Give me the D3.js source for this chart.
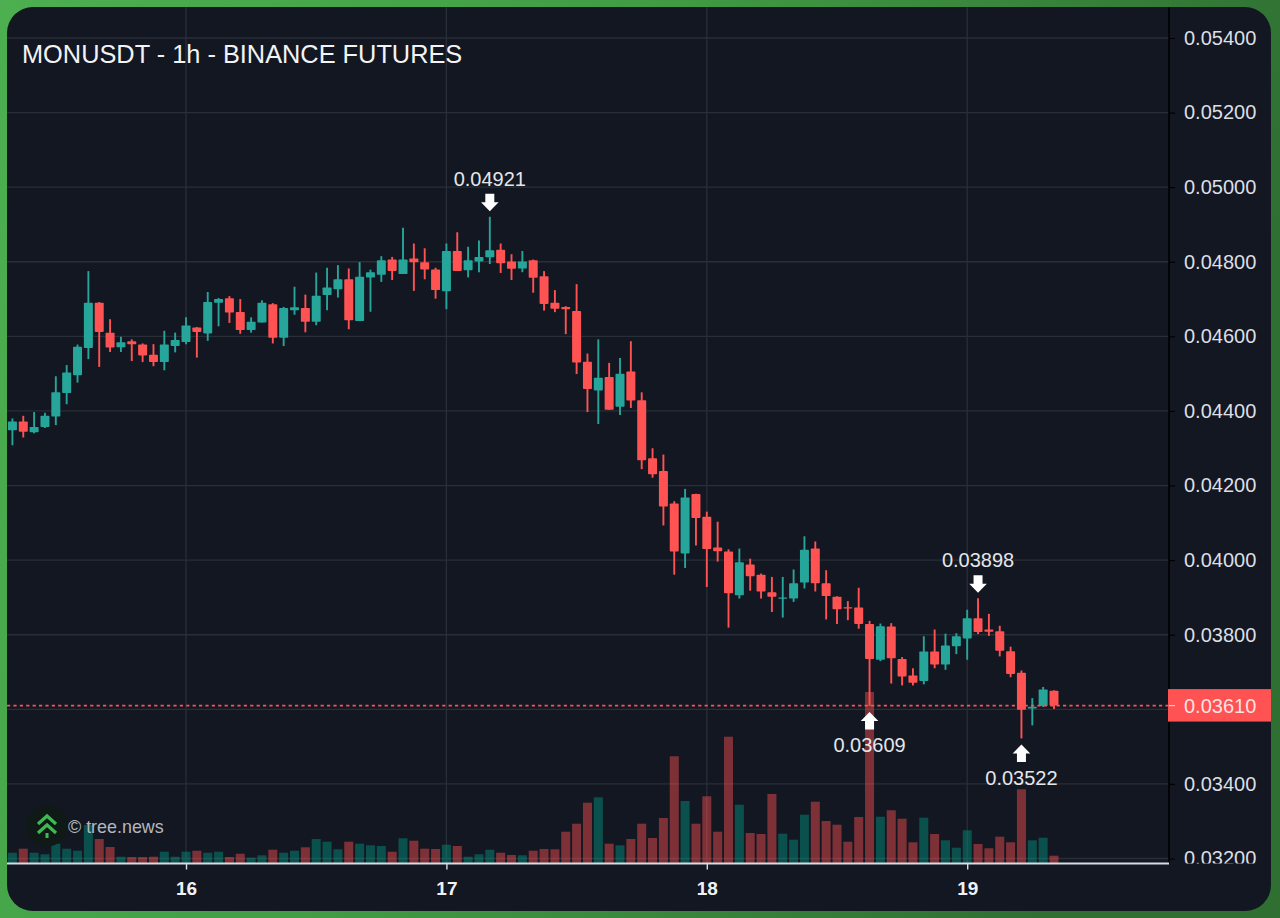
<!DOCTYPE html>
<html>
<head>
<meta charset="utf-8">
<script src="https://cdn.jsdelivr.net/npm/d3@7"></script>
<style>
html,body{margin:0;padding:0;background:#3f9642;}
svg{display:block;font-family:"Liberation Sans",Arial,sans-serif;}
</style>
</head>
<body>
<svg id="chart" width="1280" height="918"></svg>
<script>
const titleText = "MONUSDT - 1h - BINANCE FUTURES";
const watermarkText = "© tree.news";
const priceTicks = [0.054,0.052,0.050,0.048,0.046,0.044,0.042,0.040,0.038,0.034,0.032];
const gridTicks = [0.054,0.052,0.050,0.048,0.046,0.044,0.042,0.040,0.038,0.036,0.034,0.032];
const dayTicks = [16,17,18,19];
const lastPrice = 0.03610;

const opens = [0.04348,0.04372,0.04343,0.04357,0.04385,0.04448,0.04496,0.04569,0.04690,0.04610,0.04571,0.04587,0.04578,0.04551,0.04531,0.04574,0.04585,0.04624,0.04608,0.04690,0.04702,0.04665,0.04617,0.04637,0.04686,0.04596,0.04670,0.04676,0.04639,0.04711,0.04726,0.04753,0.04641,0.04758,0.04765,0.04806,0.04767,0.04809,0.04799,0.04779,0.04721,0.04829,0.04777,0.04801,0.04812,0.04832,0.04801,0.04782,0.04804,0.04761,0.04690,0.04679,0.04668,0.04532,0.04455,0.04491,0.04411,0.04506,0.04429,0.04273,0.04239,0.04152,0.04018,0.04177,0.04116,0.04034,0.04023,0.03906,0.03988,0.03961,0.03914,0.03897,0.03897,0.03940,0.04031,0.03938,0.03902,0.03874,0.03873,0.03829,0.03733,0.03822,0.03735,0.03691,0.03676,0.03755,0.03720,0.03769,0.03790,0.03844,0.03814,0.03809,0.03756,0.03698,0.03602,0.03609,0.03650];
const highs = [0.04380,0.04387,0.04397,0.04395,0.04493,0.04523,0.04578,0.04775,0.04692,0.04646,0.04599,0.04592,0.04581,0.04579,0.04615,0.04610,0.04651,0.04625,0.04719,0.04703,0.04708,0.04700,0.04651,0.04697,0.04689,0.04679,0.04733,0.04712,0.04771,0.04784,0.04791,0.04782,0.04799,0.04779,0.04815,0.04813,0.04891,0.04849,0.04836,0.04784,0.04849,0.04879,0.04840,0.04857,0.04921,0.04849,0.04820,0.04829,0.04806,0.04775,0.04724,0.04681,0.04740,0.04554,0.04592,0.04529,0.04542,0.04587,0.04450,0.04300,0.04283,0.04158,0.04191,0.04178,0.04130,0.04103,0.04029,0.04031,0.04004,0.03964,0.03955,0.03955,0.03975,0.04064,0.04050,0.03973,0.03903,0.03890,0.03926,0.03837,0.03830,0.03831,0.03740,0.03710,0.03796,0.03814,0.03803,0.03804,0.03867,0.03898,0.03856,0.03824,0.03768,0.03704,0.03630,0.03660,0.03651];
const lows = [0.04308,0.04329,0.04340,0.04354,0.04362,0.04418,0.04476,0.04539,0.04518,0.04558,0.04558,0.04534,0.04531,0.04520,0.04509,0.04557,0.04579,0.04543,0.04588,0.04627,0.04636,0.04607,0.04610,0.04637,0.04581,0.04574,0.04658,0.04611,0.04630,0.04670,0.04704,0.04619,0.04641,0.04666,0.04746,0.04751,0.04767,0.04722,0.04753,0.04701,0.04673,0.04775,0.04758,0.04772,0.04794,0.04770,0.04751,0.04772,0.04717,0.04669,0.04665,0.04606,0.04499,0.04397,0.04365,0.04403,0.04389,0.04408,0.04244,0.04221,0.04093,0.03961,0.03979,0.04039,0.03928,0.03996,0.03819,0.03897,0.03918,0.03897,0.03861,0.03846,0.03888,0.03924,0.03916,0.03841,0.03829,0.03839,0.03816,0.03609,0.03729,0.03669,0.03664,0.03664,0.03667,0.03710,0.03706,0.03748,0.03733,0.03802,0.03797,0.03742,0.03686,0.03522,0.03557,0.03606,0.03601];
const closes = [0.04372,0.04344,0.04357,0.04387,0.04450,0.04503,0.04572,0.04690,0.04612,0.04570,0.04584,0.04579,0.04549,0.04531,0.04578,0.04590,0.04629,0.04612,0.04692,0.04700,0.04664,0.04617,0.04639,0.04690,0.04596,0.04676,0.04678,0.04639,0.04709,0.04731,0.04753,0.04643,0.04760,0.04772,0.04804,0.04775,0.04806,0.04799,0.04779,0.04724,0.04829,0.04775,0.04804,0.04813,0.04831,0.04796,0.04781,0.04801,0.04757,0.04687,0.04674,0.04673,0.04530,0.04459,0.04489,0.04403,0.04500,0.04428,0.04268,0.04230,0.04144,0.04023,0.04168,0.04113,0.04030,0.04024,0.03911,0.03994,0.03957,0.03916,0.03902,0.03900,0.03938,0.04028,0.03938,0.03904,0.03868,0.03870,0.03829,0.03735,0.03823,0.03737,0.03688,0.03671,0.03755,0.03720,0.03771,0.03796,0.03844,0.03807,0.03808,0.03757,0.03695,0.03599,0.03607,0.03653,0.03610];
const volumes = [10.3,14.3,10.3,8.7,19.3,14.3,12.3,38,24,16,6.3,6,6,6.3,11.3,6.3,11.3,12.3,10.3,11.3,6,9.3,5.3,7.7,13.3,10.3,12.3,15.7,24,21.3,13.7,21.3,19.3,17.7,17,11.3,24.7,22.3,14.3,14,18.3,17,6.3,8.7,13.3,10.3,8,7.7,12.3,14,13.7,31.3,39.3,60.3,65.7,19.3,17.7,24,39.3,25,45,106.7,62,39.3,66.7,31.3,126.3,58.3,30,29,69,29.3,23.3,48.3,61.3,42,38.3,21.3,46,171,46.3,52.7,44.3,20.7,45.3,29,22.7,15.3,32.7,19,14.7,26.3,20.7,73.7,22.7,25.3,7.3];

const markerPrices = [0.04921,0.03609,0.03898,0.03522];
const markerIndex = [44,79,89,93];
const markerSide = ["high","low","high","low"];

const GREEN = "#26a69a", RED = "#ff5252";
const firstHour = Date.UTC(2025,9,15,8);
const dayOf = d => new Date(Date.UTC(2025,9,d));
const candles = opens.map((o,i)=>({
  t:d3.utcHour.offset(new Date(firstHour),i),
  o,h:highs[i],l:lows[i],c:closes[i],v:volumes[i],up:closes[i]>=o
}));

const plot = {l:7,r:1169,t:7,b:863.5};
const x = d3.scaleUtc()
  .domain([new Date(Date.UTC(2025,9,15,7,30)),new Date(Date.UTC(2025,9,19,18,36))])
  .range([plot.l,plot.r]);
const y = d3.scaleLinear().domain([0.054,0.032]).range([38,858.5]);
const vol = d3.scaleLinear().domain([0,171]).range([863,692]);
const step = x(candles[1].t)-x(candles[0].t);
const bodyW = step*0.83;

const svg = d3.select("#chart");
const defs = svg.append("defs");
const grad = defs.append("linearGradient").attr("id","frame")
  .attr("x1","0").attr("y1","0").attr("x2","1").attr("y2","0.25");
grad.append("stop").attr("offset","0").attr("stop-color","#4caf50");
grad.append("stop").attr("offset","0.45").attr("stop-color","#429e45");
grad.append("stop").attr("offset","1").attr("stop-color","#2f6f32");
defs.append("clipPath").attr("id","panel").append("rect")
  .attr("x",7).attr("y",7).attr("width",1264).attr("height",904).attr("rx",26);
defs.append("clipPath").attr("id","labels").append("rect")
  .attr("x",0).attr("y",plot.t).attr("width",110).attr("height",plot.b-plot.t);

svg.append("rect").attr("width",1280).attr("height",918).attr("fill","url(#frame)");
svg.append("rect").attr("x",7).attr("y",7).attr("width",1264).attr("height",904).attr("rx",26).attr("fill","#131722");

const root = svg.append("g").attr("clip-path","url(#panel)");

// grid
root.append("g").selectAll("line").data(gridTicks).join("line")
  .attr("x1",plot.l).attr("x2",plot.r).attr("y1",d=>y(d)).attr("y2",d=>y(d))
  .attr("stroke","#2a2e39").attr("stroke-width",1.3);
root.append("g").selectAll("line").data(dayTicks).join("line")
  .attr("x1",d=>x(dayOf(d))).attr("x2",d=>x(dayOf(d))).attr("y1",plot.t).attr("y2",plot.b)
  .attr("stroke","#2a2e39").attr("stroke-width",1.3);

// volume
root.append("g").selectAll("rect").data(candles).join("rect")
  .attr("x",d=>x(d.t)-bodyW/2).attr("width",bodyW)
  .attr("y",d=>vol(d.v)).attr("height",d=>vol(0)-vol(d.v))
  .attr("fill",d=>d.up?"rgba(0,150,130,0.45)":"rgba(255,82,82,0.45)");

// candles
const cg = root.append("g").selectAll("g").data(candles).join("g");
cg.append("line")
  .attr("x1",d=>x(d.t)).attr("x2",d=>x(d.t)).attr("y1",d=>y(d.h)).attr("y2",d=>y(d.l))
  .attr("stroke",d=>d.up?GREEN:RED).attr("stroke-width",1.9);
cg.append("rect")
  .attr("x",d=>x(d.t)-bodyW/2).attr("width",bodyW)
  .attr("y",d=>y(Math.max(d.o,d.c))).attr("height",d=>Math.max(1.2,y(Math.min(d.o,d.c))-y(Math.max(d.o,d.c))))
  .attr("rx",0.8)
  .attr("fill",d=>d.up?GREEN:RED);

// last price line
root.append("line").attr("x1",plot.l).attr("x2",plot.r).attr("y1",y(lastPrice)).attr("y2",y(lastPrice))
  .attr("stroke",RED).attr("stroke-width",1.8).attr("stroke-dasharray","3.2 3.2");

// markers
const arrowPath = (dir)=>{ // tip at origin, dir=1 pointing down, -1 pointing up
  const p=d3.path(), hw=8.8, sw=4.5, hh=9, L=17.5;
  p.moveTo(0,0);p.lineTo(hw,-dir*hh);p.lineTo(sw,-dir*hh);p.lineTo(sw,-dir*L);
  p.lineTo(-sw,-dir*L);p.lineTo(-sw,-dir*hh);p.lineTo(-hw,-dir*hh);p.closePath();
  return p.toString();
};
const mg = root.append("g").selectAll("g").data(markerPrices).join("g")
  .attr("transform",(d,i)=>`translate(${x(candles[markerIndex[i]].t)},${y(d)})`);
mg.append("path").attr("fill","#ffffff")
  .attr("d",(d,i)=>markerSide[i]==="high"?arrowPath(1):arrowPath(-1))
  .attr("transform",(d,i)=>`translate(0,${markerSide[i]==="high"?-5.5:6})`);
mg.append("text").attr("text-anchor","middle").attr("dominant-baseline","central")
  .attr("y",(d,i)=>markerSide[i]==="high"?-37.7:39.4)
  .attr("fill","#e4e6ea").attr("font-size",20)
  .text(d=>d.toFixed(5));

// axes
const yAxis = d3.axisRight(y).tickValues(priceTicks).tickSize(6).tickPadding(9).tickFormat(d=>d.toFixed(5));
const yg = root.append("g").attr("transform",`translate(${plot.r},0)`).attr("clip-path","url(#labels)").call(yAxis);
yg.select(".domain").remove();
yg.selectAll(".tick line").attr("stroke","#000").attr("stroke-width",1.2);
yg.selectAll(".tick text").attr("fill","#dcdfe4").attr("font-size",20).attr("font-family","Liberation Sans");
root.append("line").attr("x1",plot.r).attr("x2",plot.r).attr("y1",plot.t).attr("y2",plot.b).attr("stroke","#000").attr("stroke-width",1.6);

const xAxis = d3.axisBottom(x).tickValues(dayTicks.map(dayOf)).tickSize(6).tickPadding(12).tickFormat(d3.utcFormat("%-d"));
const xg = root.append("g").attr("transform",`translate(0,${plot.b})`).call(xAxis);
xg.select(".domain").attr("stroke","#d8dbe2").attr("stroke-width",1.8).attr("d",`M${plot.l},0H${plot.r}`);
xg.selectAll(".tick line").attr("stroke","#d8dbe2").attr("stroke-width",1.4);
xg.selectAll(".tick text").attr("fill","#f0f2f5").attr("font-size",19).attr("font-weight","bold").attr("font-family","Liberation Sans");

// current price label
const py = y(lastPrice);
root.append("rect").attr("x",plot.r-1).attr("y",py-16.5).attr("width",103.5).attr("height",32.5).attr("fill",RED);
root.append("line").attr("x1",plot.r).attr("x2",plot.r+6).attr("y1",py).attr("y2",py).attr("stroke","#f6c9c9").attr("stroke-width",1.2);
root.append("text").attr("x",plot.r+15).attr("y",py).attr("dominant-baseline","central")
  .attr("fill","#ffffff").attr("fill-opacity",0.85).attr("font-size",20).text(lastPrice.toFixed(5));

// title
root.append("text").attr("x",22).attr("y",54).attr("dominant-baseline","central")
  .attr("fill","#f2f3f5").attr("font-size",25.35).text(titleText);

// watermark
const wm = root.append("g");
wm.append("circle").attr("cx",47).attr("cy",826).attr("r",20.5).attr("fill","#0f1a17");
const chev = (yy)=>`M38,${yy+8}L47,${yy}L56,${yy+8}`;
wm.selectAll("path").data([816,825]).join("path").attr("d",d=>chev(d))
  .attr("fill","none").attr("stroke","#3fb950").attr("stroke-width",3.2);
wm.append("rect").attr("x",45.5).attr("y",833).attr("width",3).attr("height",5).attr("fill","#3fb950");
wm.append("text").attr("x",68).attr("y",827).attr("dominant-baseline","central")
  .attr("fill","#b4b7bd").attr("font-size",17.9).text(watermarkText);
</script>
</body>
</html>
